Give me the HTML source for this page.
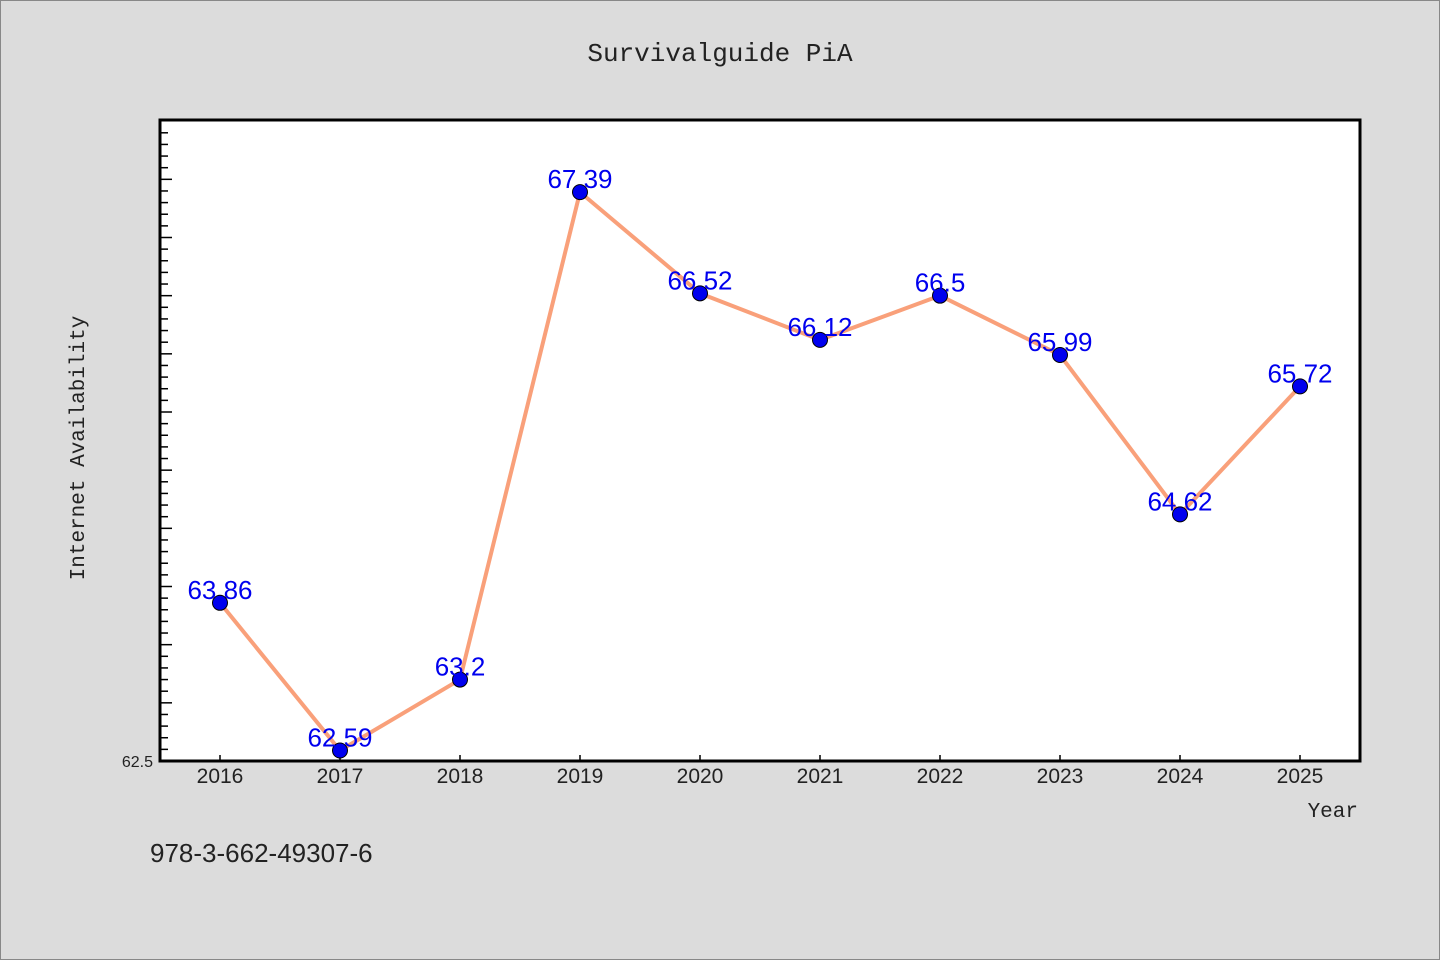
<!DOCTYPE html>
<html><head><meta charset="utf-8"><style>
html,body{margin:0;padding:0;background:#dcdcdc;}
svg{display:block;}
</style></head><body>
<svg id="chart" width="1440" height="960" xmlns="http://www.w3.org/2000/svg">
<rect x="0.5" y="0.5" width="1439" height="959" fill="#dcdcdc" stroke="#888"/>
<text x="720" y="61" text-anchor="middle" font-family="Liberation Mono, monospace" font-size="26" fill="#222">Survivalguide PiA</text>
<rect x="160" y="120" width="1200" height="641" fill="#fff"/>
<g id="yticks"></g><g id="xticks"></g>
<rect x="160" y="120" width="1200" height="641" fill="none" stroke="#000" stroke-width="3"/>
<text transform="translate(84,448) rotate(-90)" text-anchor="middle" font-family="Liberation Mono, monospace" font-size="21" fill="#222">Internet Availability</text>
<text x="1358" y="817" text-anchor="end" font-family="Liberation Mono, monospace" font-size="21" fill="#222">Year</text>
<text x="150" y="862" font-family="Liberation Sans, sans-serif" font-size="26" fill="#222">978-3-662-49307-6</text>
<g id="series"></g>
</svg>
<script>
const years = [2016,2017,2018,2019,2020,2021,2022,2023,2024,2025];
const values = [63.86,62.59,63.2,67.39,66.52,66.12,66.5,65.99,64.62,65.72];
const valueLabels = ["63.86","62.59","63.2","67.39","66.52","66.12","66.5","65.99","64.62","65.72"];
const yMin = 62.5, yMax = 68.01;
const NS="http://www.w3.org/2000/svg";
const X = v => 160 + (v - 2015.5) / 10 * 1200;
const Y = v => 761 - (v - yMin) / (yMax - yMin) * 641;
function mk(tag, attrs, parent){const e=document.createElementNS(NS,tag);for(const k in attrs)e.setAttribute(k,attrs[k]);parent.appendChild(e);return e;}
const yt=document.getElementById('yticks');
for(let i=1;i<=55;i++){
  const v=yMin+i*0.1; const y=Y(v); if(y<122)break;
  const major=i%5===0;
  const t=mk('line',{x1:160,x2:major?172:168,y1:y,y2:y,stroke:'#000','stroke-width':1.5},yt);
  
  
}
const yl=mk('text',{x:153,y:767,'text-anchor':'end','font-family':'Liberation Sans, sans-serif','font-size':16,fill:'#222'},yt);
yl.textContent='62.5';


const xt=document.getElementById('xticks');
years.forEach(yr=>{
  const t=mk('line',{x1:X(yr),x2:X(yr),y1:761,y2:755,stroke:'#000','stroke-width':1.5},xt);
  
  
  const l=mk('text',{x:X(yr),y:783,'text-anchor':'middle','font-family':'Liberation Sans, sans-serif','font-size':21,fill:'#222'},xt);
  l.textContent=yr;
  
  
});
const s=document.getElementById('series');
const line=mk('polyline',{points:years.map((y,i)=>X(y)+','+Y(values[i])).join(' '),fill:'none',stroke:'#f9a07a','stroke-width':4,'stroke-linejoin':'round'},s);


years.forEach((yr,i)=>{
  const c=mk('circle',{cx:X(yr),cy:Y(values[i]),r:7.5,fill:'#0000ee',stroke:'#000','stroke-width':1},s);
  
  
  const l=mk('text',{x:X(yr),y:Y(values[i])-4,'text-anchor':'middle','font-family':'Liberation Sans, sans-serif','font-size':26,fill:'#0000ee'},s);
  l.textContent=valueLabels[i];
  
  
});
</script>
</body></html>
